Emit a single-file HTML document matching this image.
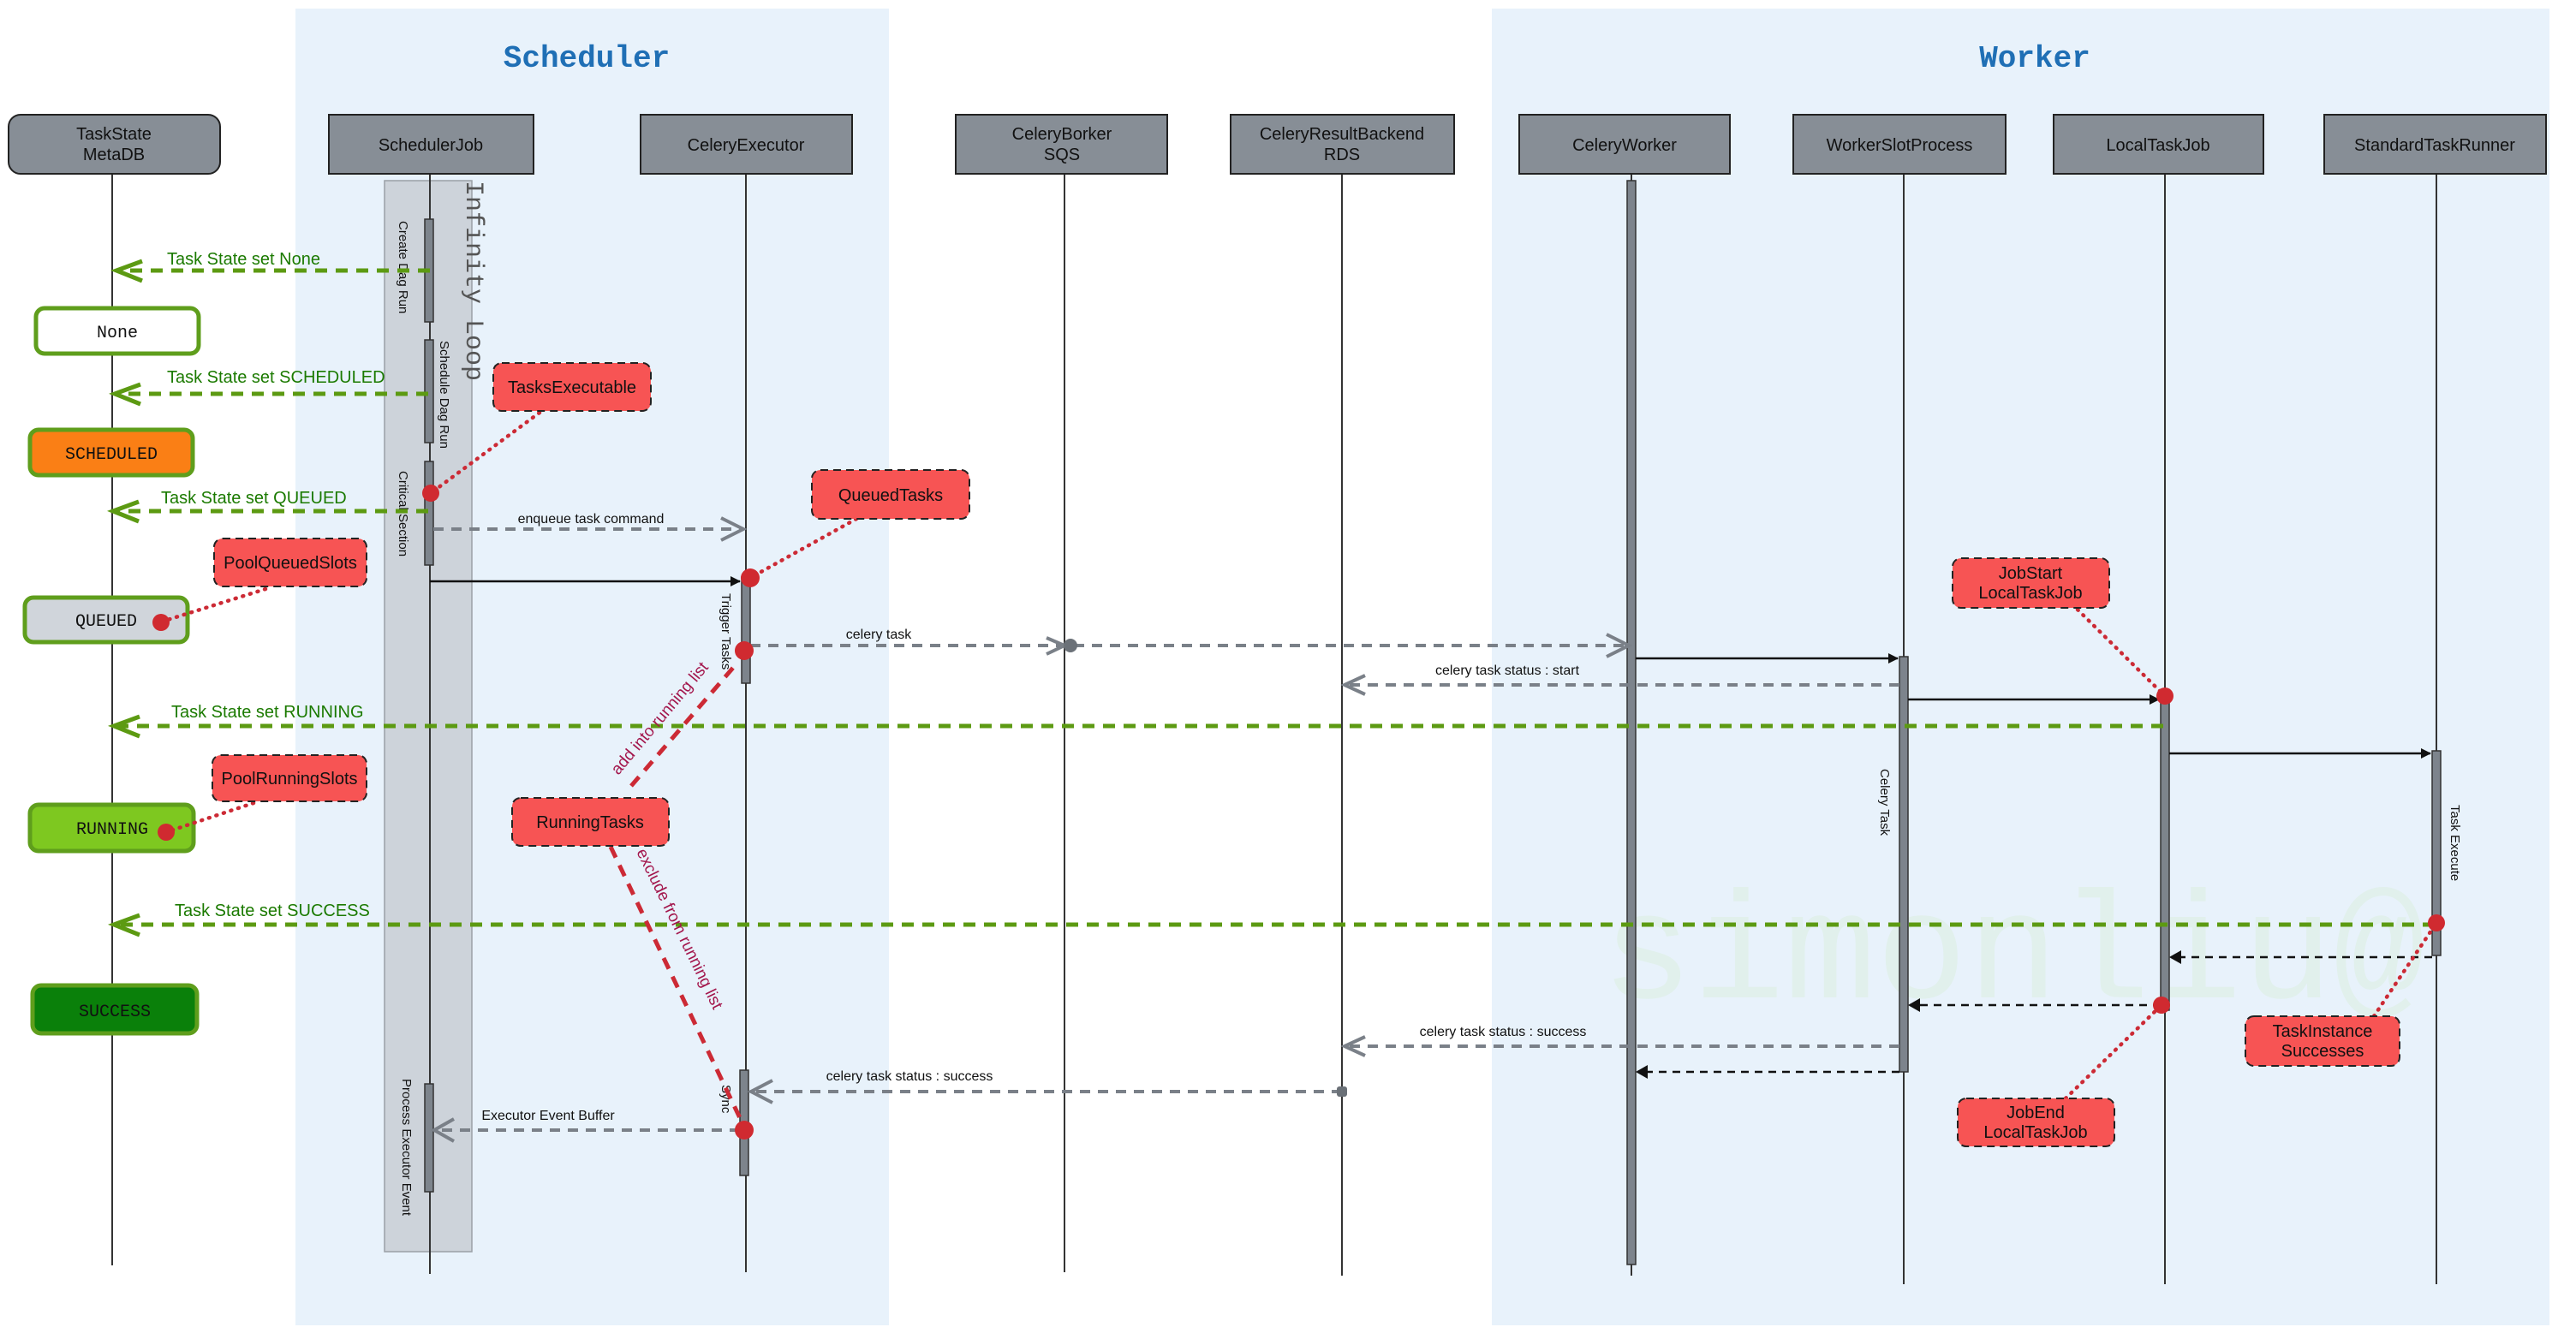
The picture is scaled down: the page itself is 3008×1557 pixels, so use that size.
<!DOCTYPE html>
<html><head><meta charset="utf-8"><style>
html,body{margin:0;padding:0;background:#fff;}
svg{display:block;}
text{font-family:"Liberation Sans",sans-serif;}
.mono{font-family:"Liberation Mono","DejaVu Sans Mono",monospace;}
.n{font-family:"Liberation Sans Narrow","Liberation Sans",sans-serif;}
</style></head><body>
<svg width="3008" height="1557" viewBox="0 0 3008 1557" xmlns="http://www.w3.org/2000/svg">
<defs>
<marker id="fa" markerWidth="12" markerHeight="12" refX="11" refY="6" orient="auto" markerUnits="userSpaceOnUse"><path d="M0,0 L12,6 L0,12 z" fill="#111"/></marker>
</defs>
<rect x="345" y="10" width="693" height="1538" fill="#e8f2fb"/>
<rect x="1742" y="10" width="1235" height="1538" fill="#e8f2fb"/>
<text x="685" y="78" class="mono" font-size="36" font-weight="bold" fill="#1f6fb5" text-anchor="middle">Scheduler</text>
<text x="2376" y="78" class="mono" font-size="36" font-weight="bold" fill="#1f6fb5" text-anchor="middle">Worker</text>
<text x="1870" y="1165" class="mono" font-size="178" fill="#dff0e8" opacity="0.75">simonliu@</text>
<rect x="449" y="211" width="102" height="1251" fill="#cdd3da" stroke="#9aa0a6" stroke-width="1.5"/>
<text transform="translate(545,211) rotate(90)" class="mono" font-size="30" fill="#555">Infinity Loop</text>
<g stroke="#333" stroke-width="2">
<line x1="131" y1="203" x2="131" y2="1478"/>
<line x1="502" y1="203" x2="502" y2="1488"/>
<line x1="871" y1="203" x2="871" y2="1486"/>
<line x1="1243" y1="203" x2="1243" y2="1486"/>
<line x1="1567" y1="203" x2="1567" y2="1490"/>
<line x1="1905" y1="203" x2="1905" y2="1490"/>
<line x1="2223" y1="203" x2="2223" y2="1500"/>
<line x1="2528" y1="203" x2="2528" y2="1500"/>
<line x1="2845" y1="203" x2="2845" y2="1500"/>
</g>
<g fill="#878e96" stroke="#222" stroke-width="2">
<rect x="10" y="134" width="247" height="69" rx="14"/>
<rect x="384" y="134" width="239" height="69"/>
<rect x="748" y="134" width="247" height="69"/>
<rect x="1116" y="134" width="247" height="69"/>
<rect x="1437" y="134" width="261" height="69"/>
<rect x="1774" y="134" width="246" height="69"/>
<rect x="2094" y="134" width="248" height="69"/>
<rect x="2398" y="134" width="245" height="69"/>
<rect x="2714" y="134" width="259" height="69"/>
</g>
<g font-size="20" fill="#111" text-anchor="middle">
<text x="133" y="163">TaskState</text><text x="133" y="187">MetaDB</text>
<text x="503" y="176">SchedulerJob</text>
<text x="871" y="176">CeleryExecutor</text>
<text x="1240" y="163">CeleryBorker</text><text x="1240" y="187">SQS</text>
<text x="1567" y="163">CeleryResultBackend</text><text x="1567" y="187">RDS</text>
<text x="1897" y="176">CeleryWorker</text>
<text x="2218" y="176">WorkerSlotProcess</text>
<text x="2520" y="176">LocalTaskJob</text>
<text x="2843" y="176">StandardTaskRunner</text>
</g>
<g fill="#7d848c" stroke="#333" stroke-width="1.5">
<rect x="496" y="256" width="10" height="120"/>
<rect x="496" y="397" width="10" height="120"/>
<rect x="496" y="539" width="10" height="121"/>
<rect x="496" y="1266" width="10" height="126"/>
<rect x="866" y="674" width="10" height="124"/>
<rect x="864" y="1250" width="10" height="123"/>
<rect x="1900" y="211" width="10" height="1266"/>
<rect x="2218" y="767" width="10" height="485"/>
<rect x="2523" y="812" width="10" height="368"/>
<rect x="2840" y="877" width="10" height="239"/>
</g>
<g font-size="15" fill="#111">
<text transform="translate(466,258) rotate(90)">Create Dag Run</text>
<text transform="translate(514,398) rotate(90)">Schedule Dag Run</text>
<text transform="translate(466,550) rotate(90)">Critical Section</text>
<text transform="translate(470,1260) rotate(90)">Process Executor Event</text>
<text transform="translate(843,693) rotate(90)">Trigger Tasks</text>
<text transform="translate(843,1267) rotate(90)">Sync</text>
<text transform="translate(2196,898) rotate(90)">Celery Task</text>
<text transform="translate(2862,940) rotate(90)">Task Execute</text>
</g>
<g stroke="#5f9e1c" stroke-width="5">
<rect x="42" y="360" width="190" height="53" rx="10" fill="#fff"/>
<rect x="35" y="502" width="190" height="53" rx="10" fill="#fa7f15"/>
<rect x="29" y="698" width="190" height="52" rx="10" fill="#d0d5db"/>
<rect x="35" y="940" width="191" height="54" rx="10" fill="#7ec820"/>
<rect x="38" y="1151" width="192" height="56" rx="10" fill="#0a800a"/>
</g>
<g class="mono" font-size="20" fill="#111" text-anchor="middle">
<text x="137" y="394" class="mono">None</text>
<text x="130" y="536" class="mono">SCHEDULED</text>
<text x="124" y="731" class="mono">QUEUED</text>
<text x="131" y="974" class="mono">RUNNING</text>
<text x="134" y="1187" class="mono">SUCCESS</text>
</g>
<g stroke="#5c9a12" stroke-width="5" stroke-dasharray="14,10" fill="none">
<line x1="502" y1="316" x2="136" y2="316"/>
<line x1="500" y1="460" x2="136" y2="460"/>
<line x1="500" y1="597" x2="136" y2="597"/>
<line x1="2526" y1="848" x2="136" y2="848"/>
<line x1="2843" y1="1080" x2="136" y2="1080"/>
</g>
<g stroke="#5c9a12" stroke-width="5" fill="none">
<path d="M166,305 L136,316 L166,328"/>
<path d="M164,449 L134,460 L164,472"/>
<path d="M162,586 L132,597 L162,609"/>
<path d="M163,837 L133,848 L163,860"/>
<path d="M163,1069 L133,1080 L163,1092"/>
</g>
<g class="n" font-size="20" fill="#1b7a00">
<text x="195" y="309" class="n">Task State set None</text>
<text x="195" y="447" class="n">Task State set SCHEDULED</text>
<text x="188" y="588" class="n">Task State set QUEUED</text>
<text x="200" y="838" class="n">Task State set RUNNING</text>
<text x="204" y="1070" class="n">Task State set SUCCESS</text>
</g>
<g stroke="#7a8088" stroke-width="4" stroke-dasharray="12,9" fill="none">
<line x1="506" y1="618" x2="866" y2="618"/>
<line x1="876" y1="754" x2="1900" y2="754"/>
<line x1="2218" y1="800" x2="1572" y2="800"/>
<line x1="2218" y1="1222" x2="1572" y2="1222"/>
<line x1="1567" y1="1275" x2="878" y2="1275"/>
<line x1="864" y1="1320" x2="508" y2="1320"/>
</g>
<g stroke="#7a8088" stroke-width="4" fill="none">
<path d="M842,605 L868,618 L842,631"/>
<path d="M1876,741 L1902,754 L1876,767"/>
<path d="M1222,745 L1243,754 L1222,764"/>
<path d="M1594,789 L1570,800 L1594,811"/>
<path d="M1594,1211 L1570,1222 L1594,1233"/>
<path d="M902,1262 L877,1275 L902,1288"/>
<path d="M530,1307 L507,1320 L530,1333"/>
</g>
<circle cx="1250" cy="754" r="8" fill="#6b7178"/>
<rect x="1561" y="1269" width="12" height="12" rx="3" fill="#6b7178"/>
<g class="n" font-size="16" fill="#111">
<text x="690" y="611" text-anchor="middle">enqueue task command</text>
<text x="1026" y="746" text-anchor="middle">celery task</text>
<text x="1760" y="788" text-anchor="middle">celery task  status : start</text>
<text x="1755" y="1210" text-anchor="middle">celery task status : success</text>
<text x="1062" y="1262" text-anchor="middle">celery task status : success</text>
<text x="640" y="1308" text-anchor="middle">Executor Event Buffer</text>
</g>
<g stroke="#111" stroke-width="2.5" fill="none">
<line x1="502" y1="679" x2="864" y2="679" marker-end="url(#fa)"/>
<line x1="1910" y1="769" x2="2216" y2="769" marker-end="url(#fa)"/>
<line x1="2228" y1="817" x2="2521" y2="817" marker-end="url(#fa)"/>
<line x1="2533" y1="880" x2="2838" y2="880" marker-end="url(#fa)"/>
</g>
<g stroke="#111" stroke-width="2.5" stroke-dasharray="9,7" fill="none">
<line x1="2840" y1="1118" x2="2535" y2="1118"/>
<line x1="2523" y1="1174" x2="2230" y2="1174"/>
<line x1="2218" y1="1252" x2="1912" y2="1252"/>
</g>
<g fill="#111">
<path d="M2533,1118 L2547,1110 L2547,1126 z"/>
<path d="M2228,1174 L2242,1166 L2242,1182 z"/>
<path d="M1910,1252 L1924,1244 L1924,1260 z"/>
</g>
<g stroke="#cc2a35" stroke-width="5" stroke-dasharray="14,10" fill="none">
<line x1="737" y1="918" x2="862" y2="773"/>
<line x1="713" y1="989" x2="866" y2="1310"/>
</g>
<text transform="translate(722,906) rotate(-50)" font-size="19" fill="#a3164c">add into running list</text>
<text transform="translate(743,995) rotate(64)" font-size="19" fill="#a3164c">exclude from running list</text>
<g stroke="#cc2a35" stroke-width="4.5" stroke-dasharray="1,8" stroke-linecap="round" fill="none">
<line x1="630" y1="482" x2="503" y2="576"/>
<line x1="1000" y1="606" x2="876" y2="675"/>
<line x1="310" y1="688" x2="186" y2="727"/>
<line x1="296" y1="938" x2="194" y2="972"/>
<line x1="2426" y1="712" x2="2528" y2="813"/>
<line x1="2772" y1="1187" x2="2845" y2="1078"/>
<line x1="2412" y1="1283" x2="2524" y2="1174"/>
</g>
<g fill="#d02a30">
<circle cx="503" cy="576" r="10"/>
<circle cx="876" cy="675" r="11"/>
<circle cx="869" cy="760" r="11"/>
<circle cx="869" cy="1320" r="11"/>
<circle cx="188" cy="727" r="10"/>
<circle cx="194" cy="972" r="10"/>
<circle cx="2528" cy="813" r="10"/>
<circle cx="2845" cy="1078" r="10"/>
<circle cx="2524" cy="1174" r="10"/>
</g>
<g fill="#f75454" stroke="#222" stroke-width="2" stroke-dasharray="9,6">
<rect x="576" y="424" width="184" height="56" rx="10"/>
<rect x="948" y="549" width="184" height="57" rx="10"/>
<rect x="250" y="629" width="178" height="56" rx="10"/>
<rect x="248" y="882" width="180" height="54" rx="10"/>
<rect x="598" y="932" width="183" height="56" rx="10"/>
<rect x="2280" y="652" width="183" height="58" rx="10"/>
<rect x="2622" y="1187" width="180" height="58" rx="10"/>
<rect x="2286" y="1283" width="183" height="56" rx="10"/>
</g>
<g class="n" font-size="20" fill="#111" text-anchor="middle">
<text x="668" y="459">TasksExecutable</text>
<text x="1040" y="585">QueuedTasks</text>
<text x="339" y="664">PoolQueuedSlots</text>
<text x="338" y="916">PoolRunningSlots</text>
<text x="689" y="967">RunningTasks</text>
<text x="2371" y="676">JobStart</text><text x="2371" y="699">LocalTaskJob</text>
<text x="2712" y="1211">TaskInstance</text><text x="2712" y="1234">Successes</text>
<text x="2377" y="1306">JobEnd</text><text x="2377" y="1329">LocalTaskJob</text>
</g>
</svg>
</body></html>
